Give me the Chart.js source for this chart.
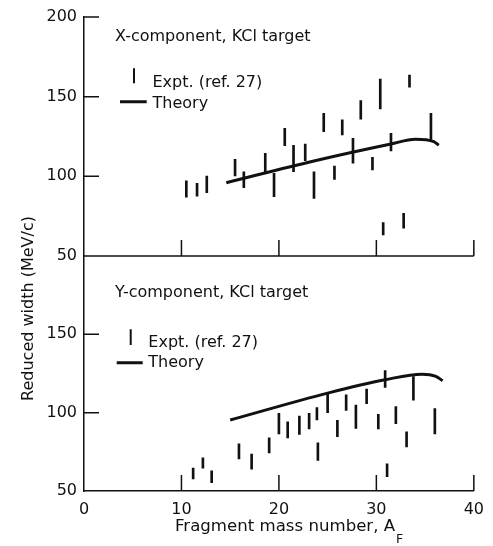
<!DOCTYPE html>
<html>
<head>
<meta charset="utf-8">
<script src="https://cdn.jsdelivr.net/npm/chart.js@4.4.1/dist/chart.umd.min.js"></script>
<style>
  html, body { margin: 0; padding: 0; background: #fff; }
</style>
</head>
<body>
<canvas id="chart" width="493" height="546"></canvas>
<script>
// Reduced width vs fragment mass, X and Y components (KCl target)

const massTicks = [0, 10, 20, 30, 40];
const widthTicks = [50, 100, 150, 200];

// X-component panel: experimental ranges (ref. 27)
const xExptMass = [10.5, 11.6, 12.6, 15.5, 16.4, 18.6, 19.5, 20.6, 21.5, 22.7, 23.6, 24.6, 25.7, 26.5, 27.6, 28.4, 29.6, 30.4, 30.7, 31.5, 32.8, 33.4, 35.6];
const xExptLow = [87.0, 87.5, 89.7, 100.2, 92.9, 101.9, 87.2, 119.2, 102.9, 109.8, 86.2, 128.0, 98.1, 126.0, 108.2, 135.8, 104.0, 142.3, 63.2, 115.9, 67.4, 155.9, 122.4];
const xExptHigh = [97.1, 95.6, 100.2, 110.7, 102.9, 114.5, 101.9, 130.2, 119.5, 120.3, 102.9, 139.6, 106.5, 135.4, 123.9, 147.5, 112.0, 161.1, 70.9, 127.0, 76.8, 163.6, 139.6];
// X-component theory curve
const xTheoryMass = [14.6, 23.7, 31.5, 34.0, 35.9, 36.4];
const xTheoryWidth = [96.0, 109.8, 120.3, 123.3, 121.8, 119.5];

// Y-component panel
const yExptMass = [11.2, 12.2, 13.1, 15.9, 17.2, 19.0, 20.0, 20.9, 22.1, 23.1, 23.9, 24.0, 25.0, 26.0, 26.9, 27.9, 29.0, 30.2, 30.9, 31.1, 32.0, 33.1, 33.8, 36.0];
const yExptLow = [57.7, 64.6, 55.3, 70.4, 64.0, 74.3, 86.5, 83.9, 86.1, 89.7, 95.3, 69.5, 100.0, 84.6, 101.5, 89.9, 105.8, 89.7, 116.1, 59.2, 92.9, 78.1, 108.0, 86.5];
const yExptHigh = [64.6, 71.1, 62.9, 80.1, 73.6, 83.9, 99.6, 94.2, 97.8, 99.6, 103.3, 80.7, 112.9, 95.1, 111.4, 104.9, 115.0, 98.9, 126.8, 67.4, 103.9, 87.8, 123.0, 102.6];
const yTheoryMass = [15.0, 25.0, 30.9, 34.7, 36.1, 36.8];
const yTheoryWidth = [95.3, 112.5, 121.0, 124.6, 123.2, 120.4];

const FONT = "'DejaVu Sans', sans-serif";
const INK = '#111';

function toBars(mass, low, high) {
    return mass.map((m, i) => ({ x: m, y: [low[i], high[i]] }));
}

function toLine(mass, width) {
    return mass.map((m, i) => ({ x: m, y: width[i] }));
}

// axis decorations, panel titles and legends
const panelDecor = {
    id: 'panelDecor',
    afterDraw(chart) {
        const ctx = chart.ctx;
        const xs = chart.scales.x;
        const yt = chart.scales.yTop;
        const yb = chart.scales.yBottom;
        const left = chart.chartArea.left;
        const midY = yt.getPixelForValue(50);
        const baseY = yb.getPixelForValue(50);

        ctx.save();
        ctx.strokeStyle = INK;
        ctx.fillStyle = INK;
        ctx.lineWidth = 1.5;

        // top panel's own mass axis
        ctx.beginPath();
        ctx.moveTo(left, midY);
        ctx.lineTo(xs.getPixelForValue(40), midY);
        ctx.stroke();

        // inward tick marks
        ctx.beginPath();
        massTicks.filter(v => v > 0).forEach(v => {
            const px = xs.getPixelForValue(v);
            ctx.moveTo(px, midY);
            ctx.lineTo(px, midY - 16);
            ctx.moveTo(px, baseY);
            ctx.lineTo(px, baseY - 16);
        });
        widthTicks.filter(v => v > 50).forEach(v => {
            const py = yt.getPixelForValue(v);
            ctx.moveTo(left, py);
            ctx.lineTo(left + 15, py);
        });
        widthTicks.filter(v => v > 50 && v < 200).forEach(v => {
            const py = yb.getPixelForValue(v);
            ctx.moveTo(left, py);
            ctx.lineTo(left + 15, py);
        });
        ctx.stroke();

        // panel titles and legends
        ctx.font = `16px ${FONT}`;
        ctx.textAlign = 'left';
        ctx.textBaseline = 'alphabetic';
        ctx.fillText('X-component, KCl target', 115, 40.5);
        ctx.fillText('Expt. (ref. 27)', 152.5, 87.3);
        ctx.fillText('Theory', 152.5, 108.3);
        ctx.fillText('Y-component, KCl target', 115, 296.7);
        ctx.fillText('Expt. (ref. 27)', 148.3, 347.3);
        ctx.fillText('Theory', 148.3, 367.3);

        ctx.lineWidth = 2;
        ctx.beginPath();
        ctx.moveTo(134, 68.3);
        ctx.lineTo(134, 83.3);
        ctx.moveTo(130.7, 329.3);
        ctx.lineTo(130.7, 345);
        ctx.stroke();
        ctx.lineWidth = 3;
        ctx.beginPath();
        ctx.moveTo(120, 101.7);
        ctx.lineTo(146.7, 101.7);
        ctx.moveTo(116.7, 362.7);
        ctx.lineTo(142.7, 362.7);
        ctx.stroke();

        // mass axis title with subscript
        const xTitle = 'Fragment mass number, A';
        ctx.font = `16.6px ${FONT}`;
        ctx.fillText(xTitle, 175, 531);
        const w = ctx.measureText(xTitle).width;
        ctx.font = `12.5px ${FONT}`;
        ctx.fillText('F', 175 + w + 1, 543);

        // shared width axis title
        ctx.font = `16px ${FONT}`;
        ctx.translate(33, 308.5);
        ctx.rotate(-Math.PI / 2);
        ctx.textAlign = 'center';
        ctx.fillText('Reduced width (MeV/c)', 0, 0);
        ctx.restore();
    }
};

const tickFont = { family: FONT, size: 16 };

new Chart(document.getElementById('chart'), {
    type: 'bar',
    data: {
        datasets: [
            {
                label: 'X expt',
                data: toBars(xExptMass, xExptLow, xExptHigh),
                yAxisID: 'yTop',
                backgroundColor: INK,
                borderWidth: 0,
                barThickness: 2,
                grouped: false,
            },
            {
                type: 'line',
                label: 'X theory',
                data: toLine(xTheoryMass, xTheoryWidth),
                yAxisID: 'yTop',
                borderColor: INK,
                borderWidth: 3,
                pointRadius: 0,
                fill: false,
                cubicInterpolationMode: 'monotone',
            },
            {
                label: 'Y expt',
                data: toBars(yExptMass, yExptLow, yExptHigh),
                yAxisID: 'yBottom',
                backgroundColor: INK,
                borderWidth: 0,
                barThickness: 2,
                grouped: false,
            },
            {
                type: 'line',
                label: 'Y theory',
                data: toLine(yTheoryMass, yTheoryWidth),
                yAxisID: 'yBottom',
                borderColor: INK,
                borderWidth: 3,
                pointRadius: 0,
                fill: false,
                cubicInterpolationMode: 'monotone',
            }
        ],
    },
    options: {
        responsive: false,
        animation: false,
        events: [],
        layout: { padding: { left: 44, right: 11, top: 17, bottom: 0 } },
        plugins: {
            legend: { display: false },
            tooltip: { enabled: false },
        },
        scales: {
            x: {
                type: 'linear',
                min: 0,
                max: 40,
                offset: false,
                afterBuildTicks: s => { s.ticks = massTicks.map(v => ({ value: v })); },
                afterFit: s => { s.height = 55; },
                grid: { drawOnChartArea: false, drawTicks: false },
                border: { color: INK, width: 1.5 },
                ticks: { color: INK, font: tickFont, padding: 9, maxRotation: 0, autoSkip: false },
            },
            yBottom: {
                type: 'linear',
                position: 'left',
                stack: 'panels',
                stackWeight: 235,
                min: 50,
                max: 200,
                afterBuildTicks: s => { s.ticks = widthTicks.filter(v => v < 200).map(v => ({ value: v })); },
                afterFit: s => { s.width = 40; },
                grid: { drawOnChartArea: false, drawTicks: false },
                border: { color: INK, width: 1.5 },
                ticks: { color: INK, font: tickFont, padding: 7 },
            },
            yTop: {
                type: 'linear',
                position: 'left',
                stack: 'panels',
                stackWeight: 239,
                min: 50,
                max: 200,
                afterBuildTicks: s => { s.ticks = widthTicks.map(v => ({ value: v })); },
                afterFit: s => { s.width = 40; },
                grid: { drawOnChartArea: false, drawTicks: false },
                border: { color: INK, width: 1.5 },
                ticks: { color: INK, font: tickFont, padding: 7 },
            },
        },
    },
    plugins: [panelDecor],
});
</script>
</body>
</html>
